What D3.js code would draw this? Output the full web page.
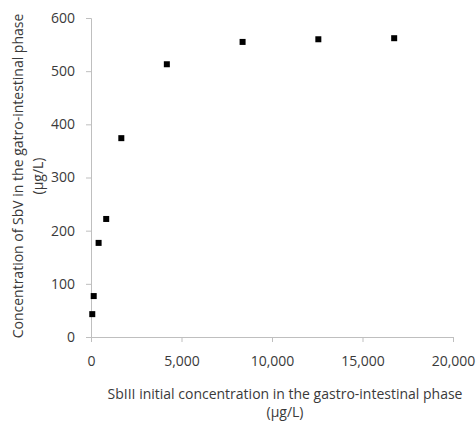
<!DOCTYPE html>
<html>
<head>
<meta charset="utf-8">
<script src="https://cdn.jsdelivr.net/npm/d3@7"></script>
<style>
  body { margin: 0; background: #fff; }
  svg { display: block; font-family: "Open Sans", Lato, sans-serif; }
</style>
</head>
<body>
<svg id="chart" width="476" height="421"></svg>
<script>
// SbIII initial concentration (ug/L) vs SbV concentration (ug/L)
const sbIII = [70, 150, 420, 840, 1675, 4190, 8375, 12560, 16750];
const sbV = [43, 77, 177, 222, 374, 513, 555, 560, 562];
const xTicks = [0, 5000, 10000, 15000, 20000];
const yTicks = [0, 100, 200, 300, 400, 500, 600];

const svg = d3.select('#chart');
const margin = { left: 91, right: 23, top: 18, bottom: 84 };
const width = 476, height = 421;

const x = d3.scaleLinear().domain([0, 20000]).range([margin.left, width - margin.right]);
const y = d3.scaleLinear().domain([0, 600]).range([height - margin.bottom, margin.top]);

const axisColor = '#bfbfbf';
const textColor = '#3a3a3a';

// x axis
const xAxis = svg.append('g')
    .attr('transform', `translate(0,${y(0)})`)
    .call(d3.axisBottom(x).tickValues(xTicks).tickSize(5).tickPadding(14).tickFormat(d3.format(',')));
// y axis
const yAxis = svg.append('g')
    .attr('transform', `translate(${x(0)},0)`)
    .call(d3.axisLeft(y).tickValues(yTicks).tickSize(5).tickPadding(11));

[xAxis, yAxis].forEach(g => {
    g.attr('font-family', null).attr('font-size', 14);
    g.select('.domain').attr('stroke', axisColor);
    g.selectAll('.tick line').attr('stroke', axisColor);
    g.selectAll('.tick text').attr('fill', textColor);
});

// points
svg.append('g')
    .selectAll('rect')
    .data(sbIII.map((v, i) => [v, sbV[i]]))
    .join('rect')
    .attr('x', d => x(d[0]) - 3)
    .attr('y', d => y(d[1]) - 3)
    .attr('width', 6)
    .attr('height', 6)
    .attr('fill', '#000');

// x title
const xt = svg.append('text')
    .attr('text-anchor', 'middle')
    .attr('fill', textColor)
    .attr('font-size', 14);
xt.append('tspan').attr('x', 285).attr('y', 399).text('SbIII initial concentration in the gastro-intestinal phase');
xt.append('tspan').attr('x', 285).attr('y', 417).text('(µg/L)');

// y title
const yt = svg.append('text')
    .attr('text-anchor', 'middle')
    .attr('fill', textColor)
    .attr('font-size', 14)
    .attr('transform', 'translate(0,176) rotate(-90)');
yt.append('tspan').attr('x', 0).attr('y', 23).text('Concentration of SbV in the gatro-intestinal phase');
yt.append('tspan').attr('x', 0).attr('y', 43).text('(µg/L)');
</script>
</body>
</html>
